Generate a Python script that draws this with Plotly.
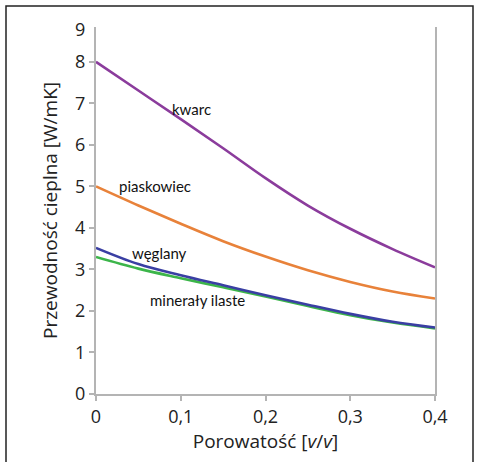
import plotly.graph_objects as go

# Data (porosity v/v vs thermal conductivity W/mK)
porosity = [0.0, 0.05, 0.1, 0.15, 0.2, 0.25, 0.3, 0.35, 0.4]
kwarc = [8.0, 7.31, 6.62, 5.92, 5.20, 4.54, 3.98, 3.49, 3.05]
piaskowiec = [5.0, 4.54, 4.10, 3.68, 3.31, 2.98, 2.70, 2.47, 2.30]
weglany = [3.52, 3.13, 2.86, 2.62, 2.38, 2.15, 1.93, 1.74, 1.60]
mineraly_ilaste = [3.30, 3.02, 2.79, 2.57, 2.35, 2.12, 1.90, 1.72, 1.58]

x_tickvals = [0, 0.1, 0.2, 0.3, 0.4]
x_ticktext = ["0", "0,1", "0,2", "0,3", "0,4"]
y_tickvals = [0, 1, 2, 3, 4, 5, 6, 7, 8]
y_ticktext = ["0", "1", "2", "3", "4", "5", "6", "7", "8"]

labels = ["kwarc", "piaskowiec", "węglany", "minerały ilaste"]
label_x = [0.113, 0.070, 0.0755, 0.120]
label_y = [6.87, 5.02, 3.40, 2.27]

W, H = 481, 462
ML, MR, MT, MB = 96, 46, 27, 68
axis_col = "#b4b4b4"
font_main = "Open Sans"

fig = go.Figure()
series = [
    (mineraly_ilaste, "#3cb54a"),
    (weglany, "#3a3fa3"),
    (piaskowiec, "#e8823a"),
    (kwarc, "#8b3c9c"),
]
for ys, col in series:
    fig.add_trace(go.Scatter(x=porosity, y=ys, mode="lines",
                             line=dict(color=col, width=2.6, shape="spline", smoothing=1.0),
                             showlegend=False, hoverinfo="skip", cliponaxis=False))

for t, lx, ly in zip(labels, label_x, label_y):
    fig.add_annotation(x=lx, y=ly, text=t, showarrow=False,
                       font=dict(family="Lato", size=15, color="#111"))

# top tick label "9"
fig.add_annotation(xref="paper", x=0, y=8.8, text="9", showarrow=False,
                   xanchor="right", yanchor="middle", xshift=-9,
                   font=dict(family=font_main, size=18, color="#222"))

# outer frame
pw = W - ML - MR
ph = H - MT - MB
def px_to_paper_x(px):
    return (px - ML) / pw
def py_to_paper_y(py):
    return (H - MB - py) / ph
fig.add_shape(type="rect", xref="paper", yref="paper",
              x0=px_to_paper_x(6), x1=px_to_paper_x(473),
              y0=py_to_paper_y(480), y1=py_to_paper_y(6),
              line=dict(color="#222", width=1.5), fillcolor="rgba(0,0,0,0)", layer="below")

fig.update_layout(
    width=W, height=H,
    margin=dict(l=ML, r=MR, t=MT, b=MB),
    paper_bgcolor="white", plot_bgcolor="white",
    font=dict(family=font_main, color="#222"),
)
fig.update_xaxes(range=[0, 0.4], tickvals=x_tickvals, ticktext=x_ticktext,
                 showgrid=False, zeroline=False, showline=True, linecolor=axis_col, linewidth=2,
                 ticks="outside", ticklen=5, tickcolor=axis_col, tickwidth=1.5,
                 tickfont=dict(size=18, color="#222"),
                 title=dict(text="Porowatość [<i>v</i>/<i>v</i>]", font=dict(size=19, color="#222"), standoff=8))
fig.update_yaxes(range=[0, 8.84], tickvals=y_tickvals, ticktext=y_ticktext,
                 showgrid=False, zeroline=False, showline=True, linecolor=axis_col, linewidth=2,
                 mirror=True,
                 ticks="outside", ticklen=5, tickcolor=axis_col, tickwidth=1.5,
                 tickfont=dict(size=18, color="#222"),
                 title=dict(text="Przewodność cieplna [W/mK]", font=dict(size=19, color="#222"), standoff=12))

fig.write_html("out.html")
